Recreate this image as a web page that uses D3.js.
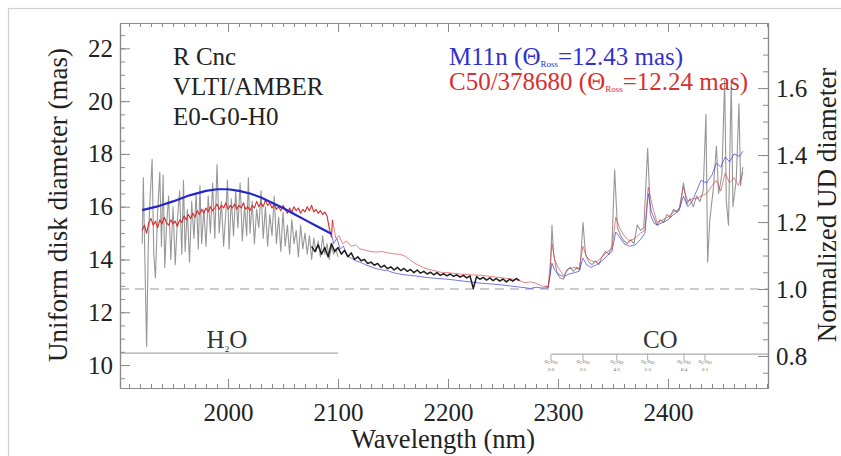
<!DOCTYPE html>
<html><head><meta charset="utf-8">
<script src="https://cdn.jsdelivr.net/npm/d3@7"></script>
<style>
body{margin:0;background:#fff}
svg{display:block}
text{font-family:"Liberation Serif","Times New Roman",serif}
</style>
</head><body>
<svg id="c" width="841" height="456"></svg>
<script>
// ---------------- data ----------------
const xTicks = [2000, 2100, 2200, 2300, 2400];
const yTicks = [10, 12, 14, 16, 18, 20, 22];
const nTicks = [0.8, 1.0, 1.2, 1.4, 1.6];
const normRef = 12.88;     // mas corresponding to normalized 1.0
const normUnit = 12.69;    // mas per normalized unit
const h2oBand = [1900, 2100];
const coBand = [2294, 2495];
const bandLevel = 10.45;
const coHeads = [2293.6, 2322.7, 2353.4, 2381.5, 2414.5, 2433.6];
const coIso = ["¹²C¹⁶O", "¹²C¹⁶O", "¹²C¹⁶O", "¹²C¹⁶O", "¹²C¹⁶O", "¹³C¹⁶O"];
const coTrans = ["2-0", "3-1", "4-2", "5-3", "6-4", "3-1"];
const infoLines = ["R Cnc", "VLTI/AMBER", "E0-G0-H0"];

// observed UD diameter, noisy H2O part (gray)
const obsGrayA = [[1922,14.6],[1923,17.1],[1924.5,13.8],[1926,10.7],[1927.5,14.5],[1929,16.2],[1931,17.8],[1932.5,14.2],[1934,13.3],[1936,15.8],[1938,17.3],[1939.5,14.5],[1941,17.2],[1942.5,13.7],[1944,15.2],[1946,16.4],[1948,14.0],[1950,16.0],[1952,13.8],[1954,15.5],[1956,16.6],[1958,14.2],[1959.5,17.0],[1961,14.3],[1963,15.9],[1965,13.9],[1967,16.2],[1969,14.8],[1971,16.5],[1973,14.4],[1974.5,16.8],[1976,14.6],[1978,15.9],[1980,14.5],[1982,16.4],[1984,15.0],[1986,16.9],[1988,14.8],[1990,17.6],[1992,15.0],[1994,16.2],[1996,14.5],[1998,15.8],[1999.5,17.0],[2001,14.4],[2003,16.3],[2005,14.9],[2007,16.6],[2009,15.2],[2011,16.9],[2013,14.7],[2015,16.0],[2017,14.9],[2018.5,17.1],[2020,15.0],[2022,16.2],[2024,14.6],[2026,15.9],[2028,15.2],[2030,16.6],[2032,14.8],[2034,16.0],[2036,14.5],[2038,15.7],[2040,14.9],[2042,16.4],[2044,14.6],[2046,15.6],[2048,14.3],[2050,15.8],[2052,14.5],[2054,15.3],[2056,14.2],[2058,15.5],[2060,14.6],[2062,15.1],[2064,14.1],[2066,15.3],[2068,14.4],[2070,15.0],[2072,14.2],[2074,14.9],[2076,14.0],[2078,14.8],[2080,14.3],[2082,14.7],[2084,14.1],[2086,14.9],[2088,14.2],[2090,14.6],[2092,14.0],[2094,14.5],[2096,14.2],[2098,14.4],[2100,14.1]];

// observed UD diameter, CO part (gray)
const obsGrayB = [[2288,13.0],[2291,12.95],[2293,13.5],[2294.5,15.3],[2296,14.2],[2299,13.5],[2302,13.3],[2305,13.25],[2308,13.6],[2311,13.7],[2314,13.55],[2317,13.7],[2320,13.6],[2322.7,15.4],[2325,14.2],[2328,13.9],[2331,13.8],[2334,13.95],[2337,13.8],[2340,14.1],[2343,14.3],[2346,14.2],[2349,14.5],[2351.5,17.4],[2354,15.2],[2357,14.9],[2360,14.7],[2363,14.6],[2366,14.75],[2369,14.6],[2372,15.3],[2375,15.1],[2378,15.2],[2381.5,18.2],[2384,15.7],[2387,15.4],[2390,15.3],[2393,15.5],[2396,15.4],[2399,15.7],[2402,15.6],[2405,15.9],[2408,15.8],[2411,16.0],[2414,16.9],[2417,16.1],[2420,16.3],[2423,16.0],[2426,16.4],[2429,16.2],[2432,16.6],[2434.5,19.5],[2436,13.9],[2438,15.5],[2441,16.6],[2444,18.3],[2446,16.5],[2449,17.2],[2451.5,20.8],[2453,16.2],[2455,15.3],[2457.5,20.8],[2459,16.0],[2462,17.0],[2464.5,19.9],[2466,16.8],[2468,17.5]];

// observed UD diameter, clean continuum part (black)
const obsBlack = [[2076,14.5],[2079,14.3],[2082,14.55],[2085,14.2],[2088,14.45],[2091,14.1],[2094,14.6],[2097,14.3],[2100,14.45],[2103,14.2],[2106,14.35],[2109,14.1],[2112,14.25],[2115,14.0],[2118,14.1],[2121,13.95],[2124,14.0],[2127,13.85],[2130,13.9],[2133,13.78],[2136,13.85],[2139,13.7],[2142,13.78],[2145,13.65],[2148,13.72],[2151,13.6],[2154,13.7],[2157,13.58],[2160,13.66],[2163,13.55],[2166,13.62],[2169,13.5],[2172,13.6],[2175,13.48],[2178,13.55],[2181,13.45],[2184,13.52],[2187,13.42],[2190,13.5],[2193,13.4],[2196,13.46],[2199,13.38],[2202,13.45],[2205,13.36],[2208,13.42],[2211,13.33],[2214,13.4],[2217,13.3],[2220,13.38],[2223,12.9],[2226,13.35],[2229,13.25],[2232,13.32],[2235,13.22],[2238,13.3],[2241,13.2],[2244,13.28],[2247,13.18],[2250,13.26],[2253,13.15],[2256,13.25],[2259,13.18],[2262,13.28],[2265,13.2]];

// M11n model (blue): smooth low-resolution part, then full-resolution part
const m11nA = [[1922,15.87],[1935,16.0],[1950,16.2],[1965,16.43],[1980,16.6],[1990,16.66],[2000,16.66],[2010,16.6],[2020,16.5],[2030,16.35],[2040,16.15],[2050,15.95],[2060,15.72],[2070,15.5],[2080,15.28],[2090,15.06],[2094,14.97]];
const m11nB = [[2094,14.97],[2096,14.6],[2099,14.8],[2102,14.4],[2105,14.5],[2108,14.15],[2112,14.05],[2116,13.95],[2120,13.9],[2125,13.8],[2130,13.72],[2135,13.65],[2140,13.6],[2145,13.58],[2150,13.5],[2160,13.42],[2170,13.38],[2180,13.32],[2190,13.28],[2200,13.25],[2210,13.2],[2220,13.15],[2230,13.1],[2240,13.07],[2250,13.03],[2260,12.98],[2270,12.93],[2275,12.9],[2280,12.95],[2285,12.92],[2291,12.92],[2294.5,13.86],[2297,13.6],[2300,13.45],[2305,13.35],[2310,13.45],[2315,13.5],[2319,13.55],[2322.7,14.05],[2326,13.8],[2330,13.7],[2335,13.8],[2340,13.95],[2345,14.15],[2349,14.3],[2352.5,15.04],[2356,14.85],[2360,14.6],[2365,14.5],[2370,14.55],[2375,14.75],[2379,15.0],[2382,16.5],[2385,15.8],[2390,15.3],[2395,15.4],[2400,15.5],[2405,15.7],[2410,15.85],[2414,16.4],[2418,16.0],[2422,16.2],[2426,16.6],[2430,17.0],[2435,16.9],[2440,17.2],[2444,17.65],[2448,17.5],[2452,17.88],[2456,17.7],[2460,18.0],[2465,17.9],[2468,18.1]];

// C50/378680 model (red)
const c50A = [[1922,15.1],[1924,15.3],[1926,15.0],[1928,15.4],[1930,15.55],[1932,15.3],[1934,15.45],[1936,15.2],[1938,15.5],[1940,15.35],[1942,15.6],[1944,15.4],[1946,15.3],[1948,15.5],[1950,15.35],[1952,15.45],[1954,15.25],[1956,15.5],[1958,15.4],[1960,15.65],[1962,15.5],[1964,15.7],[1966,15.55],[1968,15.75],[1970,15.6],[1972,15.85],[1974,15.7],[1976,15.9],[1978,15.75],[1980,15.95],[1982,15.8],[1984,16.0],[1986,15.85],[1988,15.95],[1990,16.1],[1992,15.9],[1994,16.05],[1996,15.95],[1998,16.15],[2000,15.9],[2002,16.05],[2004,15.95],[2006,16.1],[2008,15.9],[2010,16.05],[2012,15.95],[2014,16.15],[2016,15.9],[2018,16.0],[2020,15.85],[2022,16.05],[2024,15.95],[2026,16.2],[2028,16.0],[2030,16.15],[2032,16.0],[2034,16.25],[2036,16.05],[2038,16.15],[2040,15.95],[2042,16.1],[2044,15.9],[2046,16.0],[2048,15.85],[2050,16.05],[2052,15.9],[2054,15.75],[2056,15.95],[2058,15.8],[2060,16.0],[2062,15.85],[2064,15.95],[2066,15.75],[2068,15.9],[2070,15.8],[2072,16.0],[2074,15.85],[2076,16.05],[2078,15.8],[2080,15.9],[2082,15.75],[2084,15.85],[2086,15.7],[2088,15.8],[2090,15.65],[2092,15.2],[2094,14.85],[2095,15.5]];
const c50B = [[2095,15.5],[2098,14.8],[2101,14.9],[2104,14.6],[2108,14.7],[2112,14.5],[2116,14.55],[2120,14.4],[2125,14.35],[2130,14.3],[2135,14.28],[2140,14.3],[2145,14.25],[2150,14.22],[2155,14.2],[2160,14.15],[2165,14.0],[2170,13.85],[2175,13.75],[2180,13.65],[2185,13.6],[2190,13.55],[2195,13.5],[2200,13.5],[2210,13.45],[2220,13.42],[2230,13.4],[2240,13.35],[2250,13.3],[2260,13.25],[2265,13.2],[2270,13.12],[2275,13.15],[2280,13.1],[2285,13.0],[2291,12.95],[2294.5,14.6],[2297,14.0],[2300,13.7],[2305,13.4],[2310,13.65],[2315,13.7],[2319,13.65],[2322.7,14.5],[2326,14.1],[2330,13.95],[2335,13.9],[2340,14.1],[2345,14.3],[2349,14.4],[2352.5,15.6],[2356,15.2],[2360,14.9],[2365,14.7],[2370,14.8],[2375,15.0],[2379,15.1],[2382,16.74],[2386,16.0],[2390,15.4],[2395,15.5],[2400,15.6],[2405,15.8],[2410,15.9],[2414,16.74],[2418,16.2],[2422,16.3],[2426,16.3],[2430,16.4],[2435,16.5],[2440,16.8],[2444,17.0],[2448,16.6],[2452,17.27],[2456,16.9],[2460,17.1],[2464,16.8],[2468,17.3]];

// ---------------- drawing ----------------
const svg = d3.select("#c");
const L = 120, R = 768, T = 23, B = 388;
const x = d3.scaleLinear().domain([1901.8, 2490.9]).range([L, R]);
const yDom = [9.13, 22.96];
const y = d3.scaleLinear().domain(yDom).range([B, T]);
const yN = d3.scaleLinear().domain(yDom.map(v => 1 + (v - normRef) / normUnit)).range([B, T]);

const axisCol = "#8a8a8a", labCol = "#222";

// outer figure frame
svg.append("rect").attr("x", 8.5).attr("y", 8.5).attr("width", 900).attr("height", 600)
  .attr("fill", "none").attr("stroke", "#cfcfcf").attr("stroke-width", 1.2);

const clip = svg.append("defs").append("clipPath").attr("id", "pc");
clip.append("rect").attr("x", L).attr("y", T).attr("width", R - L).attr("height", B - T);

const plot = svg.append("g").attr("clip-path", "url(#pc)");

// dashed reference line at normalized 1.0
plot.append("line").attr("x1", L).attr("x2", R).attr("y1", yN(1)).attr("y2", yN(1))
  .attr("stroke", "#9a9a9a").attr("stroke-width", 1.1).attr("stroke-dasharray", "9,6");

const line = d3.line().x(d => x(d[0])).y(d => y(d[1]));
function draw(data, color, w, op) {
  plot.append("path").datum(data).attr("d", line).attr("fill", "none")
    .attr("stroke", color).attr("stroke-width", w).attr("stroke-opacity", op)
    .attr("stroke-linejoin", "round");
}
draw(obsGrayA, "#8c8c8c", 1.1, 0.9);
draw(obsGrayB, "#8c8c8c", 1.1, 0.9);
draw(m11nB, "#3434d8", 0.9, 0.75);
draw(c50B, "#d83a3a", 0.9, 0.7);
draw(obsBlack, "#111", 1.5, 0.95);
draw(c50A, "#d42c2c", 1.1, 1);
draw(m11nA, "#2626cc", 2.2, 1);

// band markers
const bandG = svg.append("g");
bandG.append("line").attr("x1", Math.max(L, x(h2oBand[0]))).attr("x2", x(h2oBand[1]))
  .attr("y1", y(bandLevel)).attr("y2", y(bandLevel)).attr("stroke", "#aaa").attr("stroke-width", 1.2);
bandG.append("text").attr("x", x(1999)).attr("y", y(bandLevel) - 5).attr("text-anchor", "middle")
  .attr("font-size", 25).attr("fill", "#333")
  .call(t => { t.append("tspan").text("H"); t.append("tspan").attr("font-size", 9).attr("dy", 4).text("2"); t.append("tspan").attr("dy", -4).text("O"); });
bandG.append("line").attr("x1", x(coBand[0])).attr("x2", R)
  .attr("y1", y(bandLevel) + 1).attr("y2", y(bandLevel) + 1).attr("stroke", "#aaa").attr("stroke-width", 1.2);
bandG.append("text").attr("x", x(2393)).attr("y", y(bandLevel) - 5).attr("text-anchor", "middle")
  .attr("font-size", 25).attr("fill", "#333").text("CO");
coHeads.forEach((h, i) => {
  const yy = y(bandLevel) + 1;
  bandG.append("line").attr("x1", x(h)).attr("x2", x(h)).attr("y1", yy).attr("y2", yy + 6)
    .attr("stroke", "#aaa").attr("stroke-width", 1);
  bandG.append("text").attr("x", x(h)).attr("y", yy + 10).attr("text-anchor", "middle")
    .attr("font-size", 5).attr("fill", "#666").text(coIso[i]);
  bandG.append("text").attr("x", x(h)).attr("y", yy + 17).attr("text-anchor", "middle")
    .attr("font-size", 5).attr("fill", "#666").text(coTrans[i]);
});

// axes
function styleAxis(g, fs) {
  g.attr("font-family", null).attr("font-size", null);
  g.selectAll(".domain").attr("stroke", axisCol).attr("stroke-width", 1.2);
  g.selectAll(".tick line").attr("stroke", axisCol).attr("stroke-width", 1);
  g.selectAll(".tick text").attr("fill", labCol).attr("font-size", fs);
}
const minorX = d3.range(1910, 2491, 10);
const minorY = d3.range(9.5, 22.96, 0.5);
const minorN = d3.range(0.75, 1.8, 0.05).filter(v => yN(v) >= T && yN(v) <= B);

svg.append("g").attr("transform", `translate(0,${B})`)
  .call(d3.axisBottom(x).tickValues(minorX).tickSize(-4).tickSizeOuter(0).tickFormat(""))
  .call(g => styleAxis(g, 25));
svg.append("g").attr("transform", `translate(0,${B})`)
  .call(d3.axisBottom(x).tickValues(xTicks).tickSize(-9).tickSizeOuter(0).tickPadding(15).tickFormat(d3.format("d")))
  .call(g => styleAxis(g, 25));
svg.append("g").attr("transform", `translate(0,${T})`)
  .call(d3.axisTop(x).tickValues(minorX).tickSize(-4).tickSizeOuter(0).tickFormat(""))
  .call(g => styleAxis(g, 25));
svg.append("g").attr("transform", `translate(0,${T})`)
  .call(d3.axisTop(x).tickValues(xTicks).tickSize(-9).tickSizeOuter(0).tickFormat(""))
  .call(g => styleAxis(g, 25));
svg.append("g").attr("transform", `translate(${L},0)`)
  .call(d3.axisLeft(y).tickValues(minorY).tickSize(-5).tickSizeOuter(0).tickFormat(""))
  .call(g => styleAxis(g, 25));
svg.append("g").attr("transform", `translate(${L},0)`)
  .call(d3.axisLeft(y).tickValues(yTicks).tickSize(-10).tickSizeOuter(0).tickPadding(7).tickFormat(d3.format("d")))
  .call(g => styleAxis(g, 25));
svg.append("g").attr("transform", `translate(${R},0)`)
  .call(d3.axisRight(yN).tickValues(minorN).tickSize(-5).tickSizeOuter(0).tickFormat(""))
  .call(g => styleAxis(g, 25));
svg.append("g").attr("transform", `translate(${R},0)`)
  .call(d3.axisRight(yN).tickValues(nTicks).tickSize(-10).tickSizeOuter(0).tickPadding(8).tickFormat(d3.format(".1f")))
  .call(g => styleAxis(g, 25));

// axis titles
svg.append("text").attr("transform", "translate(67,205) rotate(-90)").attr("text-anchor", "middle")
  .attr("font-size", 27).attr("fill", labCol).text("Uniform disk diameter (mas)");
svg.append("text").attr("transform", "translate(836,205) rotate(-90)").attr("text-anchor", "middle")
  .attr("font-size", 27).attr("fill", labCol).text("Normalized UD diameter");
svg.append("text").attr("x", 443).attr("y", 448).attr("text-anchor", "middle")
  .attr("font-size", 26.5).attr("fill", labCol).text("Wavelength (nm)");

// info block
infoLines.forEach((s, i) => {
  svg.append("text").attr("x", 173).attr("y", 65 + i * 30).attr("font-size", 25)
    .attr("fill", labCol).text(s);
});

// legend
function legend(yb, color, name, theta) {
  const t = svg.append("text").attr("x", 449).attr("y", yb).attr("font-size", 25).attr("fill", color);
  t.append("tspan").text(name + " (Θ");
  t.append("tspan").attr("font-size", 9).attr("dy", 2).text("Ross");
  t.append("tspan").attr("dy", -2).text("=" + theta + " mas)");
}
legend(65, "#3030d0", "M11n", "12.43");
legend(90, "#d83030", "C50/378680", "12.24");
</script>
</body></html>
